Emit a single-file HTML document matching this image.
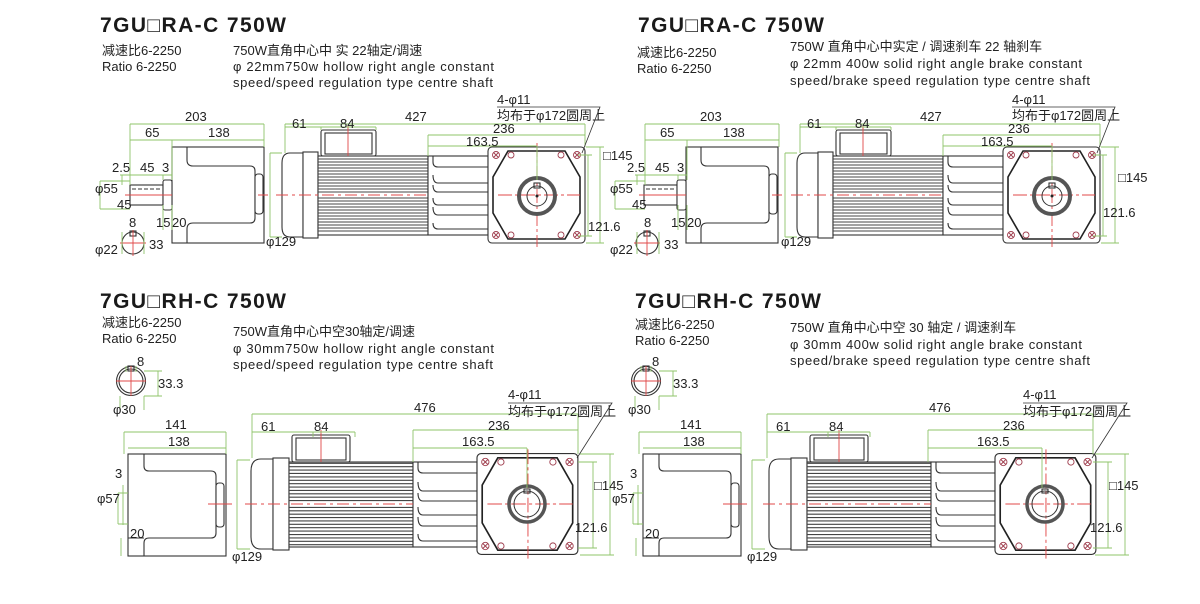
<!DOCTYPE html>
<html><head><meta charset="utf-8"><style>
html,body{margin:0;padding:0;background:#fff;}
svg{display:block;font-family:"Liberation Sans","Noto Sans CJK SC",sans-serif;}
.t{font-size:13px;fill:#222;}
.h{font-size:21px;font-weight:bold;fill:#1a1a1a;}
.d{font-size:13px;fill:#222;}
.g{stroke:#8fc46a;stroke-width:0.9;fill:none;}
.r{stroke:#e04848;stroke-width:0.9;fill:none;}
.k{stroke:#333;stroke-width:1.1;fill:#fff;}
.kn{stroke:#333;stroke-width:1.1;fill:none;}
</style></head><body>
<svg width="1200" height="604" viewBox="0 0 1200 604" xmlns="http://www.w3.org/2000/svg">
<defs>
<g id="face">
  <rect x="0" y="-48" width="97" height="96" rx="4" class="k"/>
  <polygon points="20,-44 77,-44 92,-18 92,18 77,44 20,44 5,18 5,-18" fill="none" stroke="#222" stroke-width="1.6"/>
  <g stroke="#a04050" stroke-width="0.9" fill="none">
    <circle cx="8" cy="-40" r="3.5"/><circle cx="89" cy="-40" r="3.5"/><circle cx="8" cy="40" r="3.5"/><circle cx="89" cy="40" r="3.5"/>
    <circle cx="23" cy="-40" r="3"/><circle cx="73" cy="-40" r="3"/><circle cx="23" cy="40" r="3"/><circle cx="73" cy="40" r="3"/>
    <path d="M5.5,-42.5l5,5M10.5,-42.5l-5,5M86.5,-42.5l5,5M91.5,-42.5l-5,5M5.5,37.5l5,5M10.5,37.5l-5,5M86.5,37.5l5,5M91.5,37.5l-5,5"/>
  </g>
  <path class="r" d="M49,-52V52M10,0H92" stroke-dasharray="14,3,3,3"/>
</g>
<g id="fins">
  <path stroke="#444" stroke-width="1" d="M0,-36h10M0,-33h10M0,-30h10M0,-27h10M0,-24h10M0,-21h10M0,-18h10M0,-15h10M0,-12h10M0,-9h10M0,-6h10M0,-3h10M0,3h10M0,6h10M0,9h10M0,12h10M0,15h10M0,18h10M0,21h10M0,24h10M0,27h10M0,30h10M0,33h10M0,36h10"/>
</g>
</defs>

<g id="motA" transform="translate(488,195)">
  <path class="k" d="M-185,-42H-198Q-206,-42 -206,-32V32Q-206,42 -198,42H-185Z"/>
  <rect x="-185" y="-43" width="15" height="86" class="k"/>
  <rect x="-167" y="-65" width="55" height="26" rx="2" class="k"/>
  <rect x="-163" y="-62" width="47" height="21" class="kn"/>
  <rect x="-170" y="-39" width="110" height="79" class="k"/>
  <use href="#fins" transform="translate(-170,0) scale(11,1)"/>
  <rect x="-60" y="-39" width="60" height="79" class="k"/>
  <path class="kn" d="M-55,-39V-33Q-55,-28 -50,-28H0M-55,-20Q-55,-12 -50,-12H0M-55,12Q-55,20 -50,20H0M-55,-10Q-55,-3 -50,-3H0M-55,28Q-55,34 -50,34H0M-55,3Q-55,10 -50,10H0"/>
  <use href="#face"/>
  <circle cx="49" cy="1" r="18" fill="none" stroke="#555" stroke-width="4"/>
  <circle cx="49" cy="1" r="10" fill="none" stroke="#333" stroke-width="1"/>
  <rect x="46" y="-12" width="6" height="5" class="kn"/>
  <circle cx="49" cy="1" r="1.5" fill="#222"/>
  <path class="r" d="M-212,0H-60" stroke-dasharray="12,4,3,4"/>
  <path class="r" d="M-140,-70V-39"/>
</g>
<use href="#motA" transform="translate(515,0)"/>

<g id="leftA">
  <rect x="172" y="147" width="92" height="96" class="k"/>
  <path class="kn" d="M187,147V160Q187,166 193,166H250Q255,166 255,171V218Q255,223 250,223H193Q187,223 187,229V243"/>
  <rect x="255" y="174" width="8" height="40" rx="3" class="k"/>
  <rect x="130" y="185" width="33" height="20" class="k"/>
  <path d="M132,189H162" stroke="#333" stroke-dasharray="4,2"/>
  <rect x="163" y="180" width="9" height="30" rx="2" class="k"/>
  <path class="r" d="M125,195H172M258,195H268" />
  <circle cx="133" cy="243" r="11" class="kn"/>
  <rect x="130" y="231" width="6" height="5" class="kn"/>
  <path class="r" d="M120,243H146M133,230V256"/>
</g>
<use href="#leftA" transform="translate(514,0)"/>

<g id="dimA">
  <path class="g" d="M130,124H264M130,124V185M264,124V147M130,140H264M172,140V180M120,175H172M122,175V185M163,175V180M100,181H130M100,209H130M100,181V209M172,205V230M163,205V230M285,124H585M285,124V153M285,127H376M321,127V130M376,127V130M428,135H585M428,135V156M428,146H537M537,146V180M585,124V147M270,153V237M270,153H282M270,237H282M586,147H604M586,243H604M600,147V243M578,155H592M578,236H592M588,155V236M122,232V254M144,232V254"/>
  <text class="d" x="185" y="121">203</text>
  <text class="d" x="145" y="137">65</text>
  <text class="d" x="208" y="137">138</text>
  <text class="d" x="112" y="172">2.5</text>
  <text class="d" x="140" y="172">45</text>
  <text class="d" x="162" y="172">3</text>
  <text class="d" x="95" y="193">φ55</text>
  <text class="d" x="117" y="209">45</text>
  <text class="d" x="156" y="227">15</text>
  <text class="d" x="172" y="227">20</text>
  <text class="d" x="129" y="227">8</text>
  <text class="d" x="149" y="249">33</text>
  <text class="d" x="95" y="254">φ22</text>
  <text class="d" x="266" y="246">φ129</text>
  <text class="d" x="292" y="128">61</text>
  <text class="d" x="340" y="128">84</text>
  <text class="d" x="405" y="121">427</text>
  <text class="d" x="493" y="133">236</text>
  <text class="d" x="466" y="146">163.5</text>
  <text class="d" x="497" y="104">4-φ11</text>
  <text class="d" x="497" y="120">均布于φ172圆周上</text>
  <path stroke="#333" stroke-width="0.8" fill="none" d="M497,107H600L582,153"/>
  <text class="d" x="603" y="160">□145</text>
  <text class="d" x="588" y="231">121.6</text>
</g>
<g transform="translate(515,0)">
  <path class="g" d="M130,124H264M130,124V185M264,124V147M130,140H264M172,140V180M120,175H172M122,175V185M163,175V180M100,181H130M100,209H130M100,181V209M172,205V230M163,205V230M285,124H585M285,124V153M285,127H376M321,127V130M376,127V130M428,135H585M428,135V156M428,146H537M537,146V180M585,124V147M270,153V237M270,153H282M270,237H282M586,147H604M586,243H604M600,147V243M578,155H592M578,236H592M588,155V236M122,232V254M144,232V254"/>
  <text class="d" x="185" y="121">203</text>
  <text class="d" x="145" y="137">65</text>
  <text class="d" x="208" y="137">138</text>
  <text class="d" x="112" y="172">2.5</text>
  <text class="d" x="140" y="172">45</text>
  <text class="d" x="162" y="172">3</text>
  <text class="d" x="95" y="193">φ55</text>
  <text class="d" x="117" y="209">45</text>
  <text class="d" x="156" y="227">15</text>
  <text class="d" x="172" y="227">20</text>
  <text class="d" x="129" y="227">8</text>
  <text class="d" x="149" y="249">33</text>
  <text class="d" x="95" y="254">φ22</text>
  <text class="d" x="266" y="246">φ129</text>
  <text class="d" x="292" y="128">61</text>
  <text class="d" x="340" y="128">84</text>
  <text class="d" x="405" y="121">427</text>
  <text class="d" x="493" y="133">236</text>
  <text class="d" x="466" y="146">163.5</text>
  <text class="d" x="497" y="104">4-φ11</text>
  <text class="d" x="497" y="120">均布于φ172圆周上</text>
  <path stroke="#333" stroke-width="0.8" fill="none" d="M497,107H600L582,153"/>
  <text class="d" x="603" y="182">□145</text>
  <text class="d" x="588" y="217">121.6</text>
</g>

<g id="motB" transform="translate(477,504)">
  <path class="k" d="M-204,-45H-216Q-226,-45 -226,-33V33Q-226,45 -216,45H-204Z"/>
  <rect x="-204" y="-46" width="16" height="92" class="k"/>
  <rect x="-185" y="-69" width="58" height="27" rx="2" class="k"/>
  <rect x="-181" y="-66" width="50" height="22" class="kn"/>
  <rect x="-188" y="-42" width="124" height="85" class="k"/>
  <use href="#fins" transform="translate(-188,0) scale(12.4,1.13)"/>
  <rect x="-64" y="-42" width="64" height="85" class="k"/>
  <path class="kn" d="M-59,-42V-36Q-59,-31 -54,-31H0M-59,-22Q-59,-13 -54,-13H0M-59,13Q-59,22 -54,22H0M-59,-11Q-59,-3 -54,-3H0M-59,30Q-59,37 -54,37H0M-59,3Q-59,11 -54,11H0"/>
  <g transform="scale(1.04,1.05)"><use href="#face"/></g>
  <circle cx="50" cy="0" r="18" fill="none" stroke="#555" stroke-width="3.5"/>
  <circle cx="50" cy="0" r="13" fill="none" stroke="#333" stroke-width="1"/>
  <rect x="47" y="-15" width="6" height="4" class="kn"/>
  <path class="r" d="M-232,0H-64" stroke-dasharray="12,4,3,4"/>
  <path class="r" d="M-156,-74V-42"/>
</g>
<use href="#motB" transform="translate(518,0)"/>

<g id="leftB">
  <rect x="128" y="454" width="98" height="102" class="k"/>
  <path class="kn" d="M144,454V466Q144,471 149,471H211Q216,471 216,476V533Q216,538 211,538H149Q144,538 144,543V556M128,538H144"/>
  <rect x="216" y="483" width="8" height="44" rx="3" class="k"/>
  <path class="r" d="M208,504H232"/>
  <circle cx="131" cy="381" r="12" class="kn"/>
  <circle cx="131" cy="381" r="14.5" class="kn"/>
  <rect x="128" y="366" width="6" height="5" class="kn"/>
  <path class="r" d="M116,381H146M131,366V396"/>
</g>
<use href="#leftB" transform="translate(515,0)"/>

<g id="dimB">
  <path class="g" d="M124,432H226M124,432V454M226,432V454M128,448H226M118,493H128M118,524H128M118,493V524M123,485V525M121,538V556M144,396V410M120,396V410M144,371H162M144,396H162M158,371V396M126,366V372M136,366V372M252,414H578M252,414V458M252,432H355M313,432V437M355,432V437M413,430H578M413,430V462M413,448H527M527,448V488M578,414V454M237,460V549M237,460H250M237,549H250M580,454H614M580,555H614M610,454V555M578,462H597M578,548H597M593,462V548"/>
  <text class="d" x="165" y="429">141</text>
  <text class="d" x="168" y="446">138</text>
  <text class="d" x="115" y="478">3</text>
  <text class="d" x="97" y="503">φ57</text>
  <text class="d" x="130" y="538">20</text>
  <text class="d" x="137" y="366">8</text>
  <text class="d" x="158" y="388">33.3</text>
  <text class="d" x="113" y="414">φ30</text>
  <text class="d" x="232" y="561">φ129</text>
  <text class="d" x="261" y="431">61</text>
  <text class="d" x="314" y="431">84</text>
  <text class="d" x="414" y="412">476</text>
  <text class="d" x="488" y="430">236</text>
  <text class="d" x="462" y="446">163.5</text>
  <text class="d" x="508" y="399">4-φ11</text>
  <text class="d" x="508" y="416">均布于φ172圆周上</text>
  <path stroke="#333" stroke-width="0.8" fill="none" d="M508,403H612L577,458"/>
  <text class="d" x="594" y="490">□145</text>
  <text class="d" x="575" y="532">121.6</text>
</g>
<g transform="translate(515,0)">
  <path class="g" d="M124,432H226M124,432V454M226,432V454M128,448H226M118,493H128M118,524H128M118,493V524M123,485V525M121,538V556M144,396V410M120,396V410M144,371H162M144,396H162M158,371V396M126,366V372M136,366V372M252,414H578M252,414V458M252,432H355M313,432V437M355,432V437M413,430H578M413,430V462M413,448H527M527,448V488M578,414V454M237,460V549M237,460H250M237,549H250M580,454H614M580,555H614M610,454V555M578,462H597M578,548H597M593,462V548"/>
  <text class="d" x="165" y="429">141</text>
  <text class="d" x="168" y="446">138</text>
  <text class="d" x="115" y="478">3</text>
  <text class="d" x="97" y="503">φ57</text>
  <text class="d" x="130" y="538">20</text>
  <text class="d" x="137" y="366">8</text>
  <text class="d" x="158" y="388">33.3</text>
  <text class="d" x="113" y="414">φ30</text>
  <text class="d" x="232" y="561">φ129</text>
  <text class="d" x="261" y="431">61</text>
  <text class="d" x="314" y="431">84</text>
  <text class="d" x="414" y="412">476</text>
  <text class="d" x="488" y="430">236</text>
  <text class="d" x="462" y="446">163.5</text>
  <text class="d" x="508" y="399">4-φ11</text>
  <text class="d" x="508" y="416">均布于φ172圆周上</text>
  <path stroke="#333" stroke-width="0.8" fill="none" d="M508,403H612L577,458"/>
  <text class="d" x="594" y="490">□145</text>
  <text class="d" x="575" y="532">121.6</text>
</g>

<text class="h" x="100" y="32" textLength="186">7GU□RA-C  750W</text>
<text class="t" x="102" y="55">减速比6-2250</text>
<text class="t" x="102" y="71">Ratio 6-2250</text>
<text class="t" x="233" y="55">750W直角中心中 实 22轴定/调速</text>
<text class="t" x="233" y="71" textLength="261">φ 22mm750w hollow right angle constant</text>
<text class="t" x="233" y="87" textLength="260">speed/speed regulation type centre shaft</text>

<text class="h" x="638" y="32" textLength="186">7GU□RA-C  750W</text>
<text class="t" x="637" y="57">减速比6-2250</text>
<text class="t" x="637" y="73">Ratio 6-2250</text>
<text class="t" x="790" y="51">750W 直角中心中实定 / 调速刹车 22 轴刹车</text>
<text class="t" x="790" y="68" textLength="292">φ 22mm 400w solid right angle brake constant</text>
<text class="t" x="790" y="85" textLength="300">speed/brake speed regulation type centre shaft</text>

<text class="h" x="100" y="308" textLength="186">7GU□RH-C  750W</text>
<text class="t" x="102" y="327">减速比6-2250</text>
<text class="t" x="102" y="343">Ratio 6-2250</text>
<text class="t" x="233" y="336">750W直角中心中空30轴定/调速</text>
<text class="t" x="233" y="353" textLength="261">φ 30mm750w hollow right angle constant</text>
<text class="t" x="233" y="369" textLength="260">speed/speed regulation type centre shaft</text>

<text class="h" x="635" y="308" textLength="186">7GU□RH-C  750W</text>
<text class="t" x="635" y="329">减速比6-2250</text>
<text class="t" x="635" y="345">Ratio 6-2250</text>
<text class="t" x="790" y="332">750W 直角中心中空 30 轴定 / 调速刹车</text>
<text class="t" x="790" y="349" textLength="292">φ 30mm 400w solid right angle brake constant</text>
<text class="t" x="790" y="365" textLength="300">speed/brake speed regulation type centre shaft</text>
</svg>
</body></html>
